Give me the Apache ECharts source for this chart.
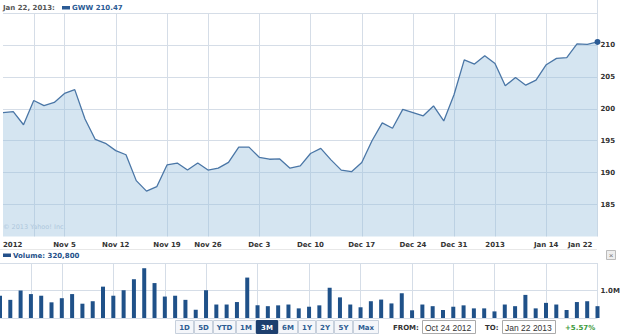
<!DOCTYPE html>
<html>
<head>
<meta charset="utf-8">
<script src="https://cdn.jsdelivr.net/npm/echarts@6/dist/echarts.min.js"></script>
<style>
html,body{margin:0;padding:0;background:#fff;}
#c{width:625px;height:336px;}
</style>
</head>
<body>
<div id="c"></div>
<script>
const dates = ['Oct 24','Oct 25','Oct 26','Oct 31','Nov 1','Nov 2','Nov 5','Nov 6','Nov 7','Nov 8','Nov 9','Nov 12','Nov 13','Nov 14','Nov 15','Nov 16','Nov 19','Nov 20','Nov 21','Nov 23','Nov 26','Nov 27','Nov 28','Nov 29','Nov 30','Dec 3','Dec 4','Dec 5','Dec 6','Dec 7','Dec 10','Dec 11','Dec 12','Dec 13','Dec 14','Dec 17','Dec 18','Dec 19','Dec 20','Dec 21','Dec 24','Dec 26','Dec 27','Dec 28','Dec 31','Jan 2','Jan 3','Jan 4','Jan 7','Jan 8','Jan 9','Jan 10','Jan 11','Jan 14','Jan 15','Jan 16','Jan 17','Jan 18','Jan 22'];

const closes = [199.4,199.55,197.5,201.3,200.5,201.0,202.4,203.0,198.4,195.2,194.6,193.45,192.8,188.75,187.1,187.8,191.2,191.5,190.4,191.5,190.4,190.7,191.6,194.0,194.0,192.4,192.1,192.15,190.7,191.05,193.0,193.8,192.0,190.4,190.15,191.6,195.0,197.8,196.95,199.9,199.4,198.9,200.45,198.1,202.2,207.65,207.0,208.3,207.1,203.6,204.9,203.7,204.5,206.9,207.9,208.0,210.15,210.1,210.47];

const volumes = [810000,660000,1000000,870000,810000,570000,720000,870000,520000,610000,1140000,810000,1010000,1410000,1810000,1270000,780000,810000,660000,300000,1010000,490000,490000,580000,1470000,460000,430000,460000,490000,350000,410000,460000,1100000,750000,490000,390000,610000,670000,530000,900000,280000,490000,430000,290000,410000,460000,350000,350000,240000,490000,430000,840000,350000,550000,490000,290000,580000,610000,430000];

const tickDates = ['Oct 24','Nov 5','Nov 12','Nov 19','Nov 26','Dec 3','Dec 10','Dec 17','Dec 24','Dec 31','Jan 7','Jan 14','Jan 22'];
const tickLabels = ['2012','Nov 5','Nov 12','Nov 19','Nov 26','Dec 3','Dec 10','Dec 17','Dec 24','Dec 31','2013','Jan 14','Jan 22'];
const gridDates = ['Oct 31','Nov 5','Nov 12','Nov 19','Nov 26','Dec 3','Dec 10','Dec 17','Dec 24','Dec 31','Jan 7','Jan 14','Jan 22'];
const priceTicks = [185,190,195,200,205,210];
const volumeTicks = [1000000];
const volumeTickLabels = ['1.0M'];
const rangeButtons = ['1D','5D','YTD','1M','3M','6M','1Y','2Y','5Y','Max'];

const headerDate = 'Jan 22, 2013:';
const headerQuote = 'GWW 210.47';
const volumeText = 'Volume: 320,800';
const fromDate = 'Oct 24 2012';
const toDate = 'Jan 22 2013';
const changeText = '+5.57%';

const FONT = '"DejaVu Sans", Verdana, sans-serif';
const FONT2 = '"Liberation Sans", Arial, sans-serif';
const GRIDC = '#d5dde7';

const chart = echarts.init(document.getElementById('c'), null, {renderer: 'svg'});

const btnX = [175,194,213,236,256,278,298,316,334,353,379];
const graphics = [];
// header
graphics.push({type:'text', x: 3, y: 7.5, style:{text: headerDate, fill:'#555', font:'bold 7px ' + FONT, verticalAlign:'middle'}});
graphics.push({type:'rect', shape:{x:62, y:6, width:8, height:3.5}, style:{fill:'#2b5b95'}});
graphics.push({type:'text', x: 72, y: 7.5, style:{text: headerQuote, fill:'#2b5b95', font:'bold 7px ' + FONT, verticalAlign:'middle'}});
graphics.push({type:'line', shape:{x1:597.5, y1:0, x2:597.5, y2:14}, style:{stroke: GRIDC, lineWidth:1}});
// watermark
graphics.push({type:'text', x: 3, y: 226.5, style:{text: '\u00a9 2013 Yahoo! Inc.', fill:'#bccbdb', font:'6.5px ' + FONT, verticalAlign:'middle'}});
// separator
graphics.push({type:'line', shape:{x1:0, y1:249.5, x2:597, y2:249.5}, style:{stroke:'#e8e8e8', lineWidth:1}});
// volume label
graphics.push({type:'rect', shape:{x:3, y:253.5, width:8, height:3.5}, style:{fill:'#24508a'}});
graphics.push({type:'text', x: 13, y: 255.5, style:{text: volumeText, fill:'#24508a', font:'bold 7px ' + FONT, verticalAlign:'middle'}});
// close button
graphics.push({type:'rect', shape:{x:606.5, y:250.5, width:9, height:9}, style:{fill:'#eeeeee', stroke:'#bbbbbb', lineWidth:1}});
graphics.push({type:'text', x: 611, y: 255, style:{text:'\u00d7', fill:'#777', font:'8px ' + FONT2, align:'center', verticalAlign:'middle'}});
// range buttons
rangeButtons.forEach((b, i) => {
  const sel = b === '3M';
  graphics.push({type:'rect', shape:{x: btnX[i] + 0.5, y: 320.5, width: btnX[i+1] - btnX[i] - 1, height: 13}, style:{fill: sel ? '#1d3f6e' : '#f4f6fa', stroke: sel ? '#1d3f6e' : '#c7d0dc', lineWidth:1}});
  graphics.push({type:'text', x: (btnX[i] + btnX[i+1]) / 2, y: 327.5, style:{text: b, fill: sel ? '#ffffff' : '#2d5c92', font:'bold 7px ' + FONT, align:'center', verticalAlign:'middle'}});
});
graphics.push({type:'text', x: 393, y: 327.5, style:{text:'FROM:', fill:'#333', font:'bold 7px ' + FONT, verticalAlign:'middle'}});
graphics.push({type:'rect', shape:{x:422.5, y:320.5, width:53, height:13}, style:{fill:'#fff', stroke:'#aaaaaa', lineWidth:1}});
graphics.push({type:'text', x: 425, y: 327.5, style:{text: fromDate, fill:'#333', font:'8.5px ' + FONT2, verticalAlign:'middle'}});
graphics.push({type:'text', x: 485, y: 327.5, style:{text:'TO:', fill:'#333', font:'bold 7px ' + FONT, verticalAlign:'middle'}});
graphics.push({type:'rect', shape:{x:502.5, y:320.5, width:53, height:13}, style:{fill:'#fff', stroke:'#aaaaaa', lineWidth:1}});
graphics.push({type:'text', x: 505, y: 327.5, style:{text: toDate, fill:'#333', font:'8.5px ' + FONT2, verticalAlign:'middle'}});
graphics.push({type:'text', x: 565, y: 327.5, style:{text: changeText, fill:'#3c9a3c', font:'bold 7px ' + FONT, verticalAlign:'middle'}});

const labelStyle = {color: '#333', fontFamily: FONT, fontWeight: 'bold', fontSize: 7};

const option = {
  animation: false,
  backgroundColor: '#fff',
  grid: [
    {left: 0, right: 27.5, top: 13, bottom: 99.5},
    {left: 0, right: 27.5, top: 263, bottom: 18}
  ],
  xAxis: [
    {
      type: 'category', gridIndex: 0, data: dates, boundaryGap: false,
      axisLine: {show: false}, axisTick: {show: false},
      axisLabel: Object.assign({
        interval: (i, v) => tickDates.indexOf(v) >= 0,
        formatter: (v) => {
          const k = tickDates.indexOf(v);
          return k === tickDates.length - 1 ? '{r|' + tickLabels[k] + '}' : tickLabels[k];
        },
        rich: {r: {padding: [0, 5, 0, 0], color: '#333', fontFamily: FONT, fontWeight: 'bold', fontSize: 7}},
        alignMinLabel: 'left', alignMaxLabel: 'right', margin: 5
      }, labelStyle),
      splitLine: {show: true, interval: (i, v) => gridDates.indexOf(v) >= 0, lineStyle: {color: GRIDC, width: 1}}
    },
    {
      type: 'category', gridIndex: 1, data: dates, boundaryGap: false,
      axisLine: {show: false}, axisTick: {show: false}, axisLabel: {show: false},
      splitLine: {show: true, interval: (i, v) => gridDates.indexOf(v) >= 0, lineStyle: {color: GRIDC, width: 1}}
    }
  ],
  yAxis: [
    {
      type: 'value', gridIndex: 0, position: 'right', min: 180, max: 215, interval: 5,
      axisLine: {show: false}, axisTick: {show: false},
      axisLabel: Object.assign({
        formatter: (v) => priceTicks.indexOf(v) >= 0 ? String(v) : '',
        margin: 3
      }, labelStyle),
      splitLine: {lineStyle: {color: ['rgba(0,0,0,0)', GRIDC, GRIDC, GRIDC, GRIDC, GRIDC, GRIDC, GRIDC], width: 1}}
    },
    {
      type: 'value', gridIndex: 1, position: 'right', min: 0, max: 2000000, interval: 1000000,
      axisLine: {show: false}, axisTick: {show: false},
      axisLabel: Object.assign({
        formatter: (v) => { const k = volumeTicks.indexOf(v); return k >= 0 ? volumeTickLabels[k] : ''; },
        margin: 3
      }, labelStyle),
      splitLine: {lineStyle: {color: GRIDC, width: 1}}
    }
  ],
  series: [
    {
      type: 'line', xAxisIndex: 0, yAxisIndex: 0, data: closes,
      showSymbol: true, showAllSymbol: true, symbol: 'circle',
      symbolSize: (val, p) => p.dataIndex === closes.length - 1 ? 6 : 0,
      itemStyle: {color: '#2b5b95'},
      lineStyle: {color: '#4a76a6', width: 1.3},
      areaStyle: {color: 'rgba(155,192,222,0.42)', opacity: 1, origin: 'start'},
      clip: false
    },
    {
      type: 'bar', xAxisIndex: 1, yAxisIndex: 1, data: volumes,
      barWidth: 4, itemStyle: {color: '#1f5189'}
    }
  ],
  graphic: graphics
};
chart.setOption(option);
</script>
</body>
</html>
